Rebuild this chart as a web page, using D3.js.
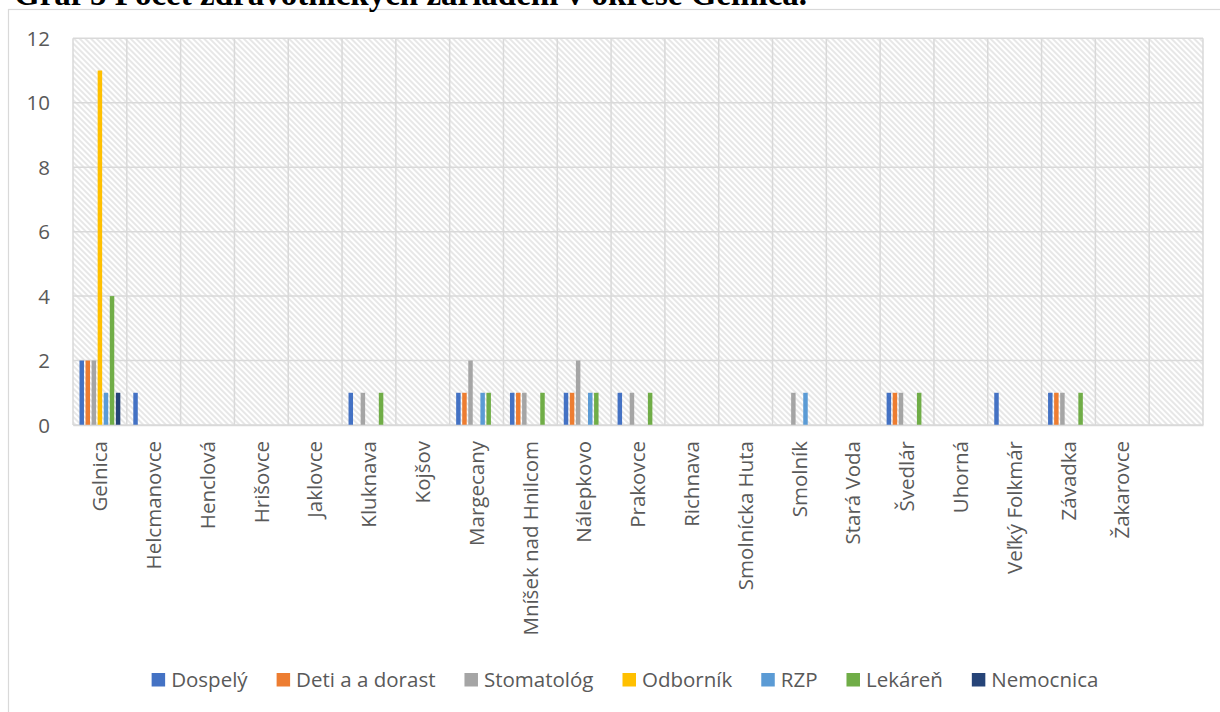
<!DOCTYPE html>
<html>
<head>
<meta charset="utf-8">
<script src="https://cdn.jsdelivr.net/npm/d3@7"></script>
<style>
  html, body { margin: 0; padding: 0; background: #fff; }
  svg { display: block; }
</style>
</head>
<body>
<svg id="chart" width="1220" height="712"></svg>
<script>
const titleText = "Graf 5 Počet zdravotníckych zariadení v okrese Gelnica.";
const categories = ["Gelnica", "Helcmanovce", "Henclová", "Hrišovce", "Jaklovce", "Kluknava", "Kojšov",
  "Margecany", "Mníšek nad Hnilcom", "Nálepkovo", "Prakovce", "Richnava", "Smolnícka Huta", "Smolník",
  "Stará Voda", "Švedlár", "Uhorná", "Veľký Folkmár", "Závadka", "Žakarovce", ""];
const seriesNames = ["Dospelý", "Deti a a dorast", "Stomatológ", "Odborník", "RZP", "Lekáreň", "Nemocnica"];
const seriesColors = ["#4472C4", "#ED7D31", "#A5A5A5", "#FFC000", "#5B9BD5", "#70AD47", "#264478"];
const dospely    = [2, 1, 0, 0, 0, 1, 0, 1, 1, 1, 1, 0, 0, 0, 0, 1, 0, 1, 1, 0, 0];
const deti       = [2, 0, 0, 0, 0, 0, 0, 1, 1, 1, 0, 0, 0, 0, 0, 1, 0, 0, 1, 0, 0];
const stomatolog = [2, 0, 0, 0, 0, 1, 0, 2, 1, 2, 1, 0, 0, 1, 0, 1, 0, 0, 1, 0, 0];
const odbornik   = [11, 0, 0, 0, 0, 0, 0, 0, 0, 0, 0, 0, 0, 0, 0, 0, 0, 0, 0, 0, 0];
const rzp        = [1, 0, 0, 0, 0, 0, 0, 1, 0, 1, 0, 0, 0, 1, 0, 0, 0, 0, 0, 0, 0];
const lekaren    = [4, 0, 0, 0, 0, 1, 0, 1, 1, 1, 1, 0, 0, 0, 0, 1, 0, 0, 1, 0, 0];
const nemocnica  = [1, 0, 0, 0, 0, 0, 0, 0, 0, 0, 0, 0, 0, 0, 0, 0, 0, 0, 0, 0, 0];
const yTicks = [0, 2, 4, 6, 8, 10, 12];

const seriesValues = [dospely, deti, stomatolog, odbornik, rzp, lekaren, nemocnica];

const svg = d3.select("#chart");
const font = "'Open Sans', 'Noto Sans', sans-serif";
const textColor = "#595959";
const gridColor = "#d9d9d9";

// outer chart border (extends beyond the visible crop)
svg.append("rect").attr("x", 8.5).attr("y", 9.5).attr("width", 1240).attr("height", 740)
  .attr("fill", "#fff").attr("stroke", "#d9d9d9").attr("stroke-width", 1.2);

// title (partially cut off at the top, as in the source)
svg.append("text").attr("x", 14).attr("y", 5)
  .attr("font-family", "'Liberation Serif', 'Times New Roman', serif")
  .attr("font-weight", "bold").attr("font-size", 33).attr("fill", "#000")
  .text(titleText);

const plot = { left: 73, top: 38.3, right: 1203, bottom: 425 };

const x0 = d3.scaleBand().domain(categories).range([plot.left, plot.right]).padding(0);
const x1 = d3.scaleBand().domain(seriesNames).range([0, x0.bandwidth()])
  .paddingInner(0.26).paddingOuter(1.07);
const y = d3.scaleLinear().domain([0, 12]).range([plot.bottom, plot.top]);

// hatch pattern
const defs = svg.append("defs");
const pat = defs.append("pattern").attr("id", "hatch").attr("patternUnits", "userSpaceOnUse")
  .attr("width", 4).attr("height", 4).attr("patternTransform", "rotate(-45)");
pat.append("rect").attr("width", 4).attr("height", 4).attr("fill", "#fff");
pat.append("line").attr("x1", 1).attr("y1", 0).attr("x2", 1).attr("y2", 4)
  .attr("stroke", "#dadada").attr("stroke-width", 1.3);

svg.append("rect").attr("x", plot.left).attr("y", plot.top)
  .attr("width", plot.right - plot.left).attr("height", plot.bottom - plot.top)
  .attr("fill", "url(#hatch)");

// horizontal gridlines
svg.append("g").selectAll("line").data(yTicks).join("line")
  .attr("x1", plot.left).attr("x2", plot.right)
  .attr("y1", d => y(d)).attr("y2", d => y(d))
  .attr("stroke", gridColor).attr("stroke-width", 1.5);

// vertical gridlines at category boundaries
const bounds = categories.map(c => x0(c)).concat([plot.right]);
svg.append("g").selectAll("line").data(bounds).join("line")
  .attr("x1", d => d).attr("x2", d => d)
  .attr("y1", plot.top).attr("y2", plot.bottom)
  .attr("stroke", gridColor).attr("stroke-width", 1.5);

// bars
const barData = [];
categories.forEach((c, ci) => {
  seriesNames.forEach((s, si) => {
    barData.push({ cat: c, series: s, value: seriesValues[si][ci], color: seriesColors[si] });
  });
});
svg.append("g").selectAll("rect").data(barData.filter(d => d.value > 0)).join("rect")
  .attr("x", d => x0(d.cat) + x1(d.series))
  .attr("width", x1.bandwidth())
  .attr("y", d => y(d.value))
  .attr("height", d => y(0) - y(d.value))
  .attr("fill", d => d.color);

// y axis
const yAxis = d3.axisLeft(y).tickValues(yTicks).tickSize(0).tickPadding(0).tickFormat(d3.format("d"));
const yg = svg.append("g").attr("transform", `translate(50,0)`).call(yAxis);
yg.select(".domain").remove();
yg.selectAll("text").attr("font-family", font).attr("font-size", 20.5).attr("fill", textColor)
  .attr("dy", "0.35em");

// x axis
const xAxis = d3.axisBottom(x0).tickSize(0).tickPadding(0);
const xg = svg.append("g").attr("transform", `translate(0,${plot.bottom})`).call(xAxis);
xg.select(".domain").attr("stroke", gridColor).attr("stroke-width", 1.5);
xg.selectAll("text")
  .attr("font-family", font).attr("font-size", 20.5).attr("fill", textColor)
  .attr("text-anchor", "end")
  .attr("transform", "rotate(-90)")
  .attr("x", -16).attr("y", 0).attr("dy", "0.35em");

// legend
const legend = svg.append("g");
const items = legend.selectAll("g").data(seriesNames).join("g");
items.append("rect").attr("width", 13.5).attr("height", 13.5).attr("y", 673)
  .attr("fill", (d, i) => seriesColors[i]);
items.append("text").attr("x", 19.5).attr("y", 687)
  .attr("font-family", font).attr("font-size", 20.5).attr("fill", textColor).text(d => d);
let widths = [];
items.each(function () {
  widths.push(19.5 + d3.select(this).select("text").node().getComputedTextLength());
});
const gap = 29;
const total = d3.sum(widths) + gap * (widths.length - 1);
let cx = 625 - total / 2;
items.attr("transform", (d, i) => {
  const t = `translate(${cx},0)`;
  cx += widths[i] + gap;
  return t;
});
</script>
</body>
</html>
